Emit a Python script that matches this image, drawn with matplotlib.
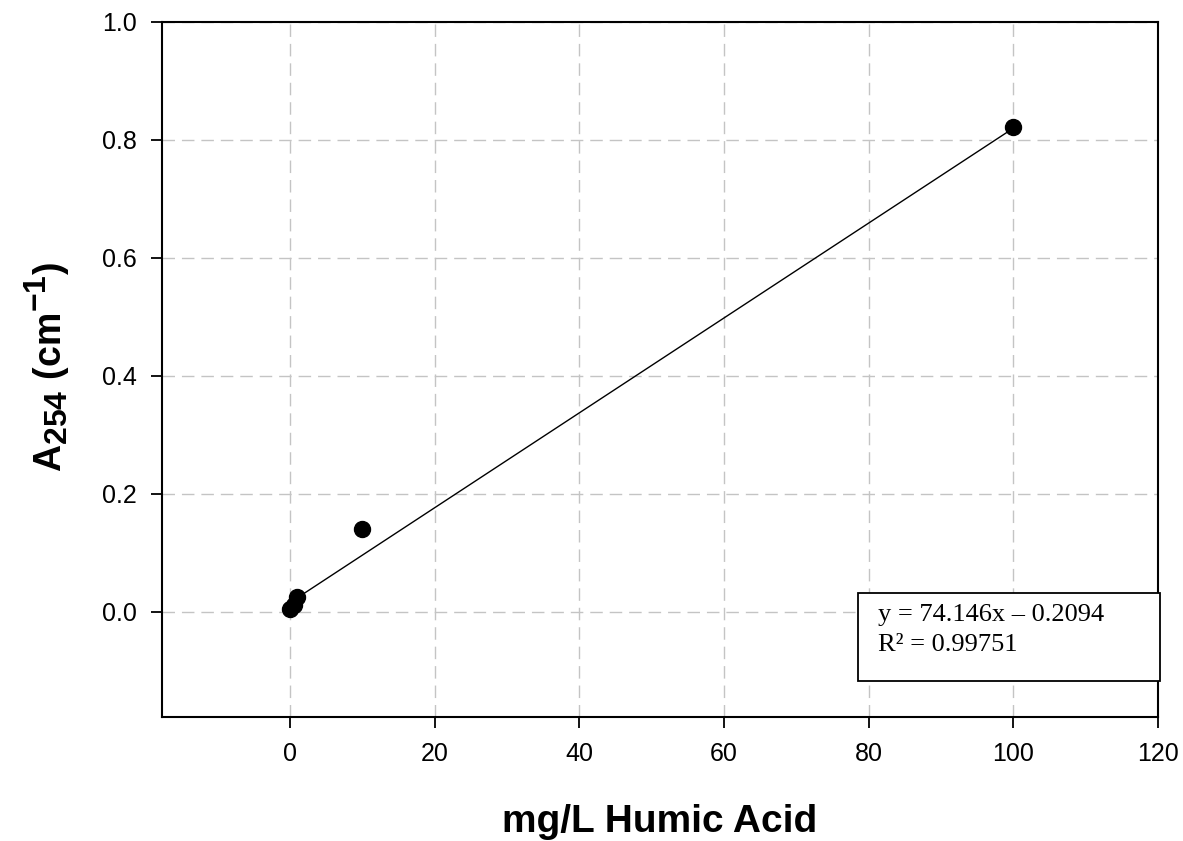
import matplotlib
matplotlib.use("Agg")
import matplotlib.pyplot as plt
from matplotlib.patches import Rectangle
import matplotlib._mathtext as _mt

# Data
conc = [0, 0.5, 1, 10, 100]
absorb = [0.005, 0.012, 0.025, 0.140, 0.822]
fit_x = [0, 100]
fit_y = [0.016, 0.820]
x_ticks = [0, 20, 40, 60, 80, 100, 120]
y_ticks = [0.0, 0.2, 0.4, 0.6, 0.8, 1.0]
eq_lines = ["y = 74.146x \u2013 0.2094", "R\u00b2 = 0.99751"]

# larger sub/superscripts like the original label
_mt.SHRINK_FACTOR = 0.85

plt.rcParams['font.family'] = ['Liberation Sans', 'DejaVu Sans']
plt.rcParams['mathtext.fontset'] = 'custom'
plt.rcParams['mathtext.rm'] = 'Liberation Sans:bold'
plt.rcParams['mathtext.it'] = 'Liberation Sans:bold'
plt.rcParams['mathtext.bf'] = 'Liberation Sans:bold'

fig = plt.figure(figsize=(11.83, 8.41), dpi=100)
ax = fig.add_axes([0.137, 0.1474, 0.842, 0.8266])

ax.set_xlim(-17.7, 120)
ax.set_ylim(-0.178, 1.0)
ax.set_xticks(x_ticks)
ax.set_yticks(y_ticks)
ax.set_yticklabels([f"{v:.1f}" for v in y_ticks])
ax.grid(True, color='#c4c4c4', linestyle=(0, (9, 5)), linewidth=1.0)
ax.set_axisbelow(True)

ax.plot(fit_x, fit_y, color='black', linewidth=1.0, zorder=2)
ax.plot(conc, absorb, 'o', color='black', markersize=11.5, zorder=3)

for s in ax.spines.values():
    s.set_linewidth(1.5)
ax.tick_params(axis='both', direction='out', length=8, width=1.3, labelsize=18, pad=10)

ax.set_xlabel("mg/L Humic Acid", fontsize=28, fontweight='bold')
ax.xaxis.set_label_coords(0.5, -0.1245)
ax.set_ylabel(r"$\mathrm{A_{254}\ (cm^{-1})}$", fontsize=27)
ax.yaxis.set_label_coords(-0.0905, 0.503)

rect = Rectangle((0.699, 0.052), 0.303, 0.126, transform=ax.transAxes,
                 facecolor='white', edgecolor='black', linewidth=1.3,
                 clip_on=False, zorder=5)
ax.add_patch(rect)
ax.text(0.719, 0.147, eq_lines[0], transform=ax.transAxes, fontsize=19,
        family='Liberation Serif', va='center', ha='left', zorder=6)
ax.text(0.719, 0.104, eq_lines[1], transform=ax.transAxes, fontsize=19,
        family='Liberation Serif', va='center', ha='left', zorder=6)

fig.savefig("out.png", dpi=100)
